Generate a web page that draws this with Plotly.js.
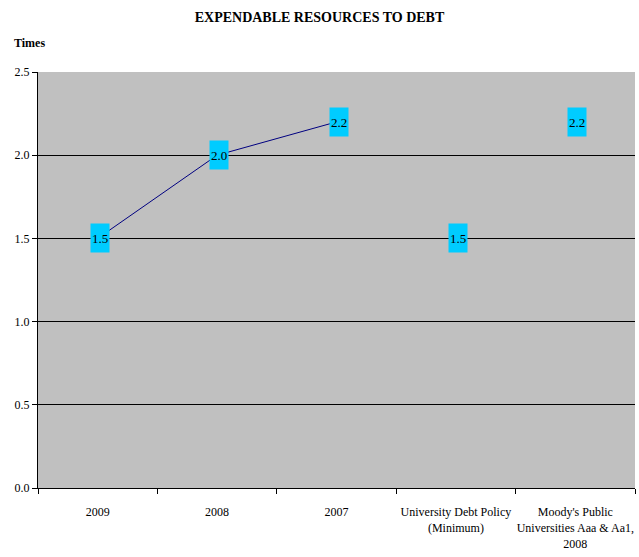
<!DOCTYPE html>
<html>
<head>
<meta charset="utf-8">
<script src="https://cdn.plot.ly/plotly-3.0.1.min.js"></script>
<style>html,body{margin:0;padding:0;background:#fff;}#chart{width:639px;height:557px;}</style>
</head>
<body>
<div id="chart"></div>
<script>
const categories = ["2009", "2008", "2007", "University Debt Policy<br>(Minimum)", "Moody's Public<br>Universities Aaa & Aa1,<br>2008"];
const trendCats = ["2009", "2008", "2007"];
const trendValues = [1.5, 2.0, 2.2];
const benchCats = ["University Debt Policy<br>(Minimum)", "Moody's Public<br>Universities Aaa & Aa1,<br>2008"];
const benchValues = [1.5, 2.2];
const yTicks = [0, 0.5, 1.0, 1.5, 2.0, 2.5];
const yTickLabels = ["0.0", "0.5", "1.0", "1.5", "2.0", "2.5"];

const font = "'Liberation Serif', 'Times New Roman', serif";

const traces = [
  {x: trendCats, y: trendValues, type: 'scatter', mode: 'lines', line: {color: '#000080', width: 1}, hoverinfo: 'skip'},
  {x: benchCats, y: benchValues, type: 'scatter', mode: 'markers', marker: {size: 1, color: 'rgba(0,0,0,0)'}, hoverinfo: 'skip'}
];

const allCats = trendCats.concat(benchCats);
const allVals = trendValues.concat(benchValues);
const annotations = allCats.map((c, i) => ({
  x: categories.indexOf(c), y: allVals[i], xref: 'x', yref: 'y',
  text: allVals[i].toFixed(1), showarrow: false, xshift: 2,
  bgcolor: '#00CCFF', width: 18, height: 28, borderpad: 0,
  font: {family: font, size: 13, color: '#000'}
}));
annotations.push({
  text: '<b>Times</b>', xref: 'paper', yref: 'paper', x: 0, y: 1, xanchor: 'left', yanchor: 'middle',
  xshift: -26, yshift: 29, showarrow: false, font: {family: font, size: 12, color: '#000'}
});

const layout = {
  width: 639, height: 557,
  margin: {l: 38, r: 4, t: 72, b: 69},
  paper_bgcolor: '#fff', plot_bgcolor: '#C0C0C0',
  showlegend: false,
  title: {text: '<b>EXPENDABLE RESOURCES TO DEBT</b>', x: 0.5, xanchor: 'center', y: 1 - 17/557, yanchor: 'middle', font: {family: font, size: 14, color: '#000'}},
  xaxis: {
    type: 'category', categoryorder: 'array', categoryarray: categories,
    range: [-0.5, 4.5], tickson: 'boundaries', ticks: 'outside', ticklen: 5, tickcolor: '#000',
    showline: true, linecolor: '#000', linewidth: 1, showgrid: false, zeroline: false,
    tickangle: 0, automargin: false,
    tickfont: {family: font, size: 12, color: '#000'}, ticklabelstandoff: 13
  },
  yaxis: {
    range: [0, 2.5], tickvals: yTicks, ticktext: yTickLabels, ticks: 'outside', ticklen: 5, tickcolor: '#000',
    showline: true, linecolor: '#000', linewidth: 1, showgrid: true, gridcolor: '#000', gridwidth: 1, zeroline: false,
    tickfont: {family: font, size: 12, color: '#000'}, automargin: false
  },
  annotations: annotations
};

Plotly.newPlot('chart', traces, layout, {displayModeBar: false, staticPlot: true});
</script>
</body>
</html>
